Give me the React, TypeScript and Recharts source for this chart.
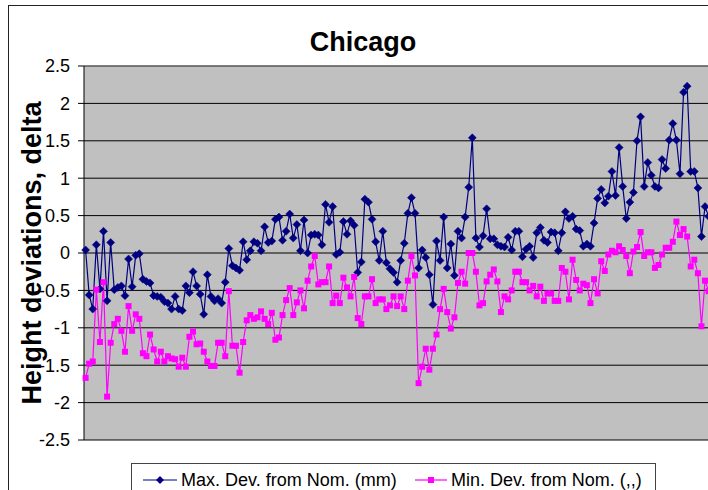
import { LineChart, Line, XAxis, YAxis, CartesianGrid, ReferenceLine } from "recharts"

// Max. deviation from nominal (mm), one value per sample
const maxDev = [
  0.04, -0.56, -0.75, 0.11, -0.48, 0.29, -0.64, 0.14, -0.49, -0.46,
  -0.44, -0.57, -0.08, -0.45, -0.03, -0.01, -0.35, -0.38, -0.4, -0.57,
  -0.58, -0.59, -0.65, -0.67, -0.75, -0.58, -0.75, -0.77, -0.44, -0.53,
  -0.25, -0.44, -0.55, -0.82, -0.29, -0.58, -0.64, -0.61, -0.67, -0.39,
  0.06, -0.17, -0.2, -0.23, 0.15, -0.09, 0.03, 0.15, 0.13, 0.03,
  0.35, 0.14, 0.16, 0.45, 0.48, 0.17, 0.29, 0.52, 0.2, 0.38,
  0.03, 0.44, 0.0, 0.24, 0.25, 0.24, 0.11, 0.65, 0.41, 0.62,
  -0.02, 0.01, 0.42, 0.25, 0.43, 0.37, -0.26, -0.12, 0.72, 0.68,
  0.45, 0.15, -0.1, 0.29, -0.13, -0.21, -0.26, -0.39, -0.1, 0.13,
  0.53, 0.74, 0.53, -0.2, 0.04, -0.06, -0.29, -0.69, 0.16, -0.1,
  0.48, -0.2, 0.12, -0.3, 0.29, 0.2, 0.48, 0.88, 1.54, 0.2,
  0.08, 0.23, 0.59, 0.19, 0.19, 0.11, 0.09, 0.08, 0.21, 0.04,
  0.29, 0.29, -0.05, 0.05, 0.09, -0.06, 0.27, 0.34, 0.17, 0.14,
  0.28, 0.27, 0.03, 0.27, 0.55, 0.46, 0.49, 0.32, 0.3, 0.09,
  0.12, 0.09, 0.4, 0.73, 0.85, 0.67, 0.76, 1.09, 0.77, 1.41,
  0.89, 0.46, 0.68, 0.81, 1.5, 1.82, 0.89, 1.21, 1.04, 0.89,
  0.87, 1.25, 1.13, 1.51, 1.73, 1.51, 1.06, 2.15, 2.23, 1.09,
  1.09, 0.87, 0.22, 0.62, 0.49, 0.55,
]

// Min. deviation from nominal (same unit)
const minDev = [
  -1.67, -1.48, -1.45, -0.49, -1.19, -0.39, -1.92, -1.2, -0.95, -0.88,
  -1.04, -1.32, -0.71, -1.04, -0.82, -0.88, -1.34, -1.38, -1.09, -1.29,
  -1.45, -1.32, -1.45, -1.38, -1.41, -1.42, -1.52, -1.4, -1.52, -1.12,
  -1.05, -1.22, -1.21, -1.32, -1.45, -1.51, -1.51, -1.2, -1.2, -1.38,
  -0.51, -1.24, -1.24, -1.6, -1.19, -0.9, -0.83, -0.88, -0.86, -0.78,
  -0.88, -0.95, -0.8, -1.16, -1.13, -0.83, -0.63, -0.47, -0.83, -0.66,
  -0.5, -0.74, -0.37, -0.18, -0.04, -0.42, -0.39, -0.39, -0.18, -0.67,
  -0.57, -0.67, -0.33, -0.46, -0.58, -0.32, -0.87, -0.95, -0.58, -0.58,
  -0.35, -0.67, -0.62, -0.62, -0.75, -0.7, -0.58, -0.71, -0.58, -0.75,
  -0.37, -0.04, -0.3, -1.74, -1.52, -1.28, -1.56, -1.28, -1.09, -0.75,
  -0.48, -0.79, -1.01, -0.86, -0.4, -0.25, -0.41, 0.0, 0.0, -0.25,
  -0.7, -0.67, -0.38, -0.29, -0.22, -0.38, -0.79, -0.58, -0.62, -0.5,
  -0.25, -0.25, -0.39, -0.39, -0.5, -0.44, -0.58, -0.45, -0.64, -0.54,
  -0.54, -0.64, -0.64, -0.2, -0.25, -0.62, -0.09, -0.36, -0.5, -0.41,
  -0.43, -0.67, -0.35, -0.54, -0.11, -0.24, -0.02, 0.03, 0.01, 0.09,
  0.04, -0.04, -0.27, 0.02, 0.08, 0.28, -0.04, 0.01, 0.01, -0.2,
  -0.16, -0.02, 0.07, 0.07, 0.15, 0.42, 0.24, 0.32, 0.22, -0.18,
  -0.09, -0.27, -0.98, -0.37, -0.51, -0.45,
]

const yTicks = [-2.5, -2, -1.5, -1, -0.5, 0, 0.5, 1, 1.5, 2, 2.5]

const data = maxDev.map((v, i) => ({ sample: i + 1, max: v, min: minDev[i] }))

const FONT = "'Liberation Sans', Arial, sans-serif"
const NAVY = "#000080"
const MAGENTA = "#FF00FF"

const Diamond = (props: any) => {
  const { cx, cy, index } = props
  if (cx == null || cy == null) return <g key={`d${index}`} />
  return (
    <polygon
      key={`d${index}`}
      points={`${cx},${cy - 4} ${cx + 4},${cy} ${cx},${cy + 4} ${cx - 4},${cy}`}
      fill={NAVY}
      stroke={NAVY}
      strokeWidth={0.5}
    />
  )
}

const Square = (props: any) => {
  const { cx, cy, index } = props
  if (cx == null || cy == null) return <g key={`s${index}`} />
  return <rect key={`s${index}`} x={cx - 3} y={cy - 3} width={6} height={6} fill={MAGENTA} />
}

export default function App() {
  return (
    <div style={{ position: "fixed", left: 0, top: 0, width: 708, height: 490, overflow: "hidden", background: "#fff", fontFamily: FONT }}>
      {/* chart frame, cut off at right and bottom like the screenshot */}
      <div style={{ position: "absolute", left: 8, top: 5, width: 800, height: 600, border: "1px solid #222" }} />

      <div style={{ position: "absolute", left: 0, top: 0 }}>
        <LineChart width={760} height={490} data={data} margin={{ top: 66, right: 46, bottom: 50, left: 24 }}>
          <CartesianGrid vertical={false} stroke="#000" fill="#C0C0C0" fillOpacity={1} />
          <XAxis dataKey="sample" hide padding={{ left: 1.6, right: 1.8 }} />
          <YAxis
            width={60}
            domain={[-2.5, 2.5]}
            ticks={yTicks}
            interval={0}
            axisLine={{ stroke: "#000" }}
            tickLine={{ stroke: "#000" }}
            tickSize={6}
            tickMargin={8}
            tick={{ fill: "#000", fontSize: 18, fontFamily: FONT }}
          />
          <ReferenceLine y={2.5} stroke="#808080" />
          <Line
            type="linear"
            dataKey="max"
            stroke={NAVY}
            strokeWidth={1.2}
            dot={Diamond}
            activeDot={false}
            isAnimationActive={false}
          />
          <Line
            type="linear"
            dataKey="min"
            stroke={MAGENTA}
            strokeWidth={1.2}
            dot={Square}
            activeDot={false}
            isAnimationActive={false}
          />
        </LineChart>
      </div>

      <svg width={708} height={490} style={{ position: "absolute", left: 0, top: 0, pointerEvents: "none" }}>
        <text x={363} y={51} textAnchor="middle" fontFamily={FONT} fontWeight="bold" fontSize={27} fill="#000">
          Chicago
        </text>
        <text
          x={0}
          y={0}
          transform="translate(41,253) rotate(-90)"
          textAnchor="middle"
          fontFamily={FONT}
          fontWeight="bold"
          fontSize={27}
          fill="#000"
        >
          Height deviations, delta
        </text>
      </svg>

      {/* legend box */}
      <div style={{ position: "absolute", left: 131, top: 463, width: 523, height: 40, border: "1px solid #444", background: "#fff" }}>
        <svg width={523} height={40} style={{ position: "absolute", left: 0, top: 0 }}>
          <line x1={11} y1={16} x2={45} y2={16} stroke={NAVY} strokeWidth={1.2} />
          <polygon points="28,12 32,16 28,20 24,16" fill={NAVY} />
          <text x={49} y={22} fontFamily={FONT} fontSize={18} fill="#000">Max. Dev. from Nom. (mm)</text>
          <line x1={283} y1={16} x2={315} y2={16} stroke={MAGENTA} strokeWidth={1.2} />
          <rect x={296} y={13} width={6} height={6} fill={MAGENTA} />
          <text x={319} y={22} fontFamily={FONT} fontSize={18} fill="#000">Min. Dev. from Nom. (,,)</text>
        </svg>
      </div>
    </div>
  )
}
